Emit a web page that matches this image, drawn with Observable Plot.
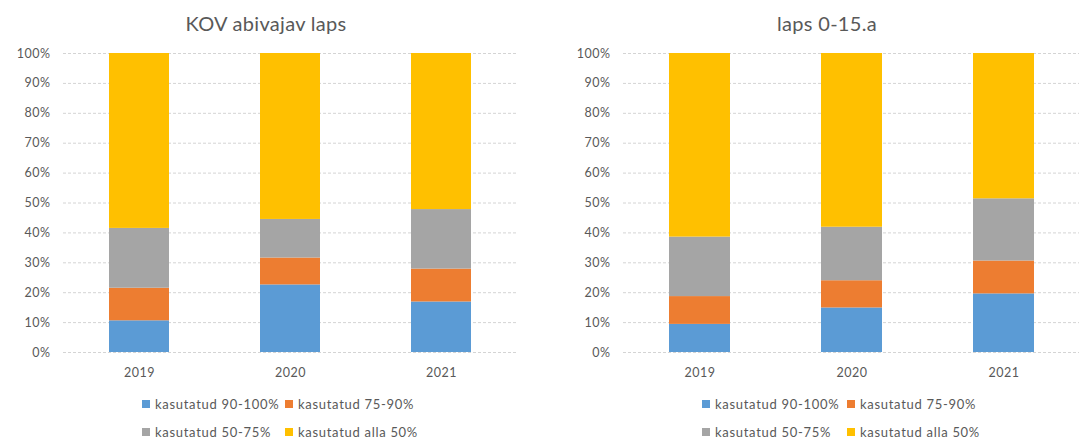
<!DOCTYPE html>
<html>
<head>
<meta charset="utf-8">
<script src="https://cdn.jsdelivr.net/npm/d3@7"></script>
<script src="https://cdn.jsdelivr.net/npm/@observablehq/plot@0.6"></script>
<style>
  body { margin: 0; background: #fff; font-family: Lato, "Open Sans", sans-serif; color: #595959; }
  #root { position: relative; width: 1089px; height: 441px; overflow: hidden; }
  .panel { position: absolute; top: 0; }
  .title { position: absolute; font-size: 20px; letter-spacing: 0.3px; color: #595959; white-space: nowrap; transform: translate(-50%, -50%); }
  .plotbox { position: absolute; top: 40px; left: 0; }
  .plotbox svg text { letter-spacing: 0.5px; }
  .legend { position: absolute; display: grid; row-gap: 14px; font-size: 13px; letter-spacing: 0.7px; color: #595959; }
  .item { display: flex; align-items: center; white-space: nowrap; height: 14px; }
  .sw { width: 8px; height: 8px; margin-right: 5px; flex: none; }
</style>
</head>
<body>
<div id="root"></div>
<script>
const years = ["2019", "2020", "2021"];
const categories = ["kasutatud 90-100%", "kasutatud 75-90%", "kasutatud 50-75%", "kasutatud alla 50%"];
const colors = ["#5B9BD5", "#ED7D31", "#A5A5A5", "#FFC000"];
const yTicks = [0, 10, 20, 30, 40, 50, 60, 70, 80, 90, 100];

// KOV abivajav laps
const kovTitle = "KOV abivajav laps";
const kov90 = [10.6, 22.6, 16.9];
const kov75 = [10.9, 9.0, 11.0];
const kov50 = [20.0, 12.9, 19.9];
const kovAlla = [58.5, 55.5, 52.2];

// laps 0-15.a
const lapsTitle = "laps 0-15.a";
const laps90 = [9.4, 14.9, 19.6];
const laps75 = [9.3, 9.1, 11.0];
const laps50 = [19.9, 17.9, 20.8];
const lapsAlla = [61.4, 58.1, 48.6];

function rows(series) {
  const out = [];
  years.forEach((yr, i) => {
    series.forEach((s, k) => out.push({year: yr, cat: categories[k], value: s[i]}));
  });
  return out;
}

function makePanel(cfg) {
  const root = document.getElementById("root");
  const panel = document.createElement("div");
  panel.className = "panel";
  panel.style.left = cfg.left + "px";
  panel.style.width = cfg.width + "px";
  panel.style.height = "441px";
  root.appendChild(panel);

  const t = document.createElement("div");
  t.className = "title";
  t.textContent = cfg.title;
  t.style.left = cfg.titleX + "px";
  t.style.top = "23px";
  panel.appendChild(t);

  const data = rows(cfg.series);
  const chart = Plot.plot({
    width: cfg.width,
    height: 350,
    marginTop: 13,
    marginBottom: 38,
    marginLeft: cfg.marginLeft,
    marginRight: cfg.marginRight,
    style: {fontFamily: "Lato, 'Open Sans', sans-serif", fontSize: "12.5px", color: "#595959", background: "white"},
    x: {domain: years, paddingInner: 0.6, paddingOuter: 0.3, label: null, tickSize: 0, tickPadding: 16},
    y: {domain: [0, 100], ticks: yTicks, tickFormat: d => d + "%", label: null, tickSize: 0, tickPadding: 13},
    color: {domain: categories, range: colors},
    marks: [
      Plot.gridY(yTicks, {stroke: "#d4d4d4", strokeOpacity: 1, strokeDasharray: "3,2"}),
      Plot.barY(data, {x: "year", y: "value", fill: "cat", order: categories}),
      Plot.axisY({ticks: yTicks, tickFormat: d => d + "%", tickSize: 0, tickPadding: 13, fill: "#595959", label: null}),
      Plot.axisX({tickSize: 0, tickPadding: 16, fill: "#595959", label: null})
    ]
  });
  const box = document.createElement("div");
  box.className = "plotbox";
  box.appendChild(chart);
  panel.appendChild(box);

  const lg = document.createElement("div");
  lg.className = "legend";
  lg.style.left = cfg.legendX + "px";
  lg.style.top = "397px";
  lg.style.gridTemplateColumns = cfg.legendCol + "px auto";
  categories.forEach((c, k) => {
    const it = document.createElement("div");
    it.className = "item";
    const sw = document.createElement("span");
    sw.className = "sw";
    sw.style.background = colors[k];
    const tx = document.createElement("span");
    tx.textContent = c;
    it.appendChild(sw);
    it.appendChild(tx);
    lg.appendChild(it);
  });
  panel.appendChild(lg);
}

makePanel({left: 0, width: 545, title: kovTitle, titleX: 266, marginLeft: 63, marginRight: 27,
  series: [kov90, kov75, kov50, kovAlla], legendX: 142, legendCol: 143});
makePanel({left: 545, width: 544, title: lapsTitle, titleX: 282, marginLeft: 78, marginRight: 10,
  series: [laps90, laps75, laps50, lapsAlla], legendX: 157, legendCol: 145});
</script>
</body>
</html>
